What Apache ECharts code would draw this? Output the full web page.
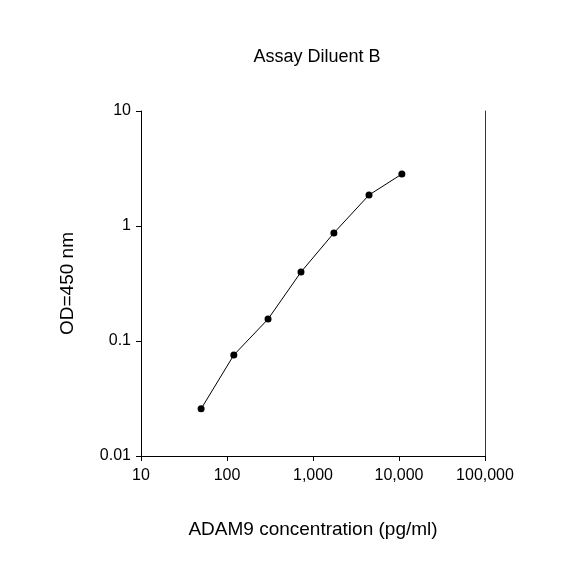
<!DOCTYPE html>
<html><head><meta charset="utf-8">
<script src="https://cdn.jsdelivr.net/npm/echarts@6/dist/echarts.min.js"></script>
<style>html,body{margin:0;background:#fff}#c{width:584px;height:584px}</style>
</head><body><div id="c"></div>
<script>
const concentrations=[50,120,300,725,1750,4480,10800];
const odValues=[0.0257,0.0755,0.155,0.398,0.87,1.86,2.83];
const xTickLabels={10:'10',100:'100',1000:'1,000',10000:'10,000',100000:'100,000'};
const yTickLabels={0.01:'0.01',0.1:'0.1',1:'1',10:'10'};
const font='Liberation Sans, Arial, sans-serif';
const chart=echarts.init(document.getElementById('c'));
chart.setOption({
  animation:false,
  title:{text:'Assay Diluent B',left:312,top:43,textAlign:'center',textStyle:{fontFamily:font,fontSize:18,fontWeight:'normal',color:'#000'}},
  grid:{left:141,right:99,top:111,bottom:128},
  xAxis:{type:'log',logBase:10,min:10,max:100000,
    name:'ADAM9 concentration (pg/ml)',nameLocation:'middle',nameGap:64,
    nameTextStyle:{fontFamily:font,fontSize:19,color:'#000'},
    axisLine:{lineStyle:{color:'#000'}},axisTick:{inside:false,length:5,lineStyle:{color:'#000'}},
    minorTick:{show:false},splitLine:{show:false},
    axisLabel:{fontFamily:font,fontSize:16,color:'#000',margin:12,formatter:v=>xTickLabels[Math.round(v)]||''}},
  yAxis:[{type:'log',logBase:10,min:0.01,max:10,
    name:'OD=450 nm',nameLocation:'middle',nameGap:64,
    nameTextStyle:{fontFamily:font,fontSize:19,color:'#000'},
    axisLine:{show:true,lineStyle:{color:'#000'}},axisTick:{show:true,length:5,lineStyle:{color:'#000'}},
    splitLine:{show:false},
    axisLabel:{fontFamily:font,fontSize:16,color:'#000',margin:10,formatter:v=>{for(const k in yTickLabels){if(Math.abs(Math.log10(v)-Math.log10(+k))<1e-6)return yTickLabels[k];}return '';}}},
   {type:'log',logBase:10,min:0.01,max:10,position:'right',axisLine:{show:true,lineStyle:{color:'#000',width:0.8}},axisTick:{show:false},axisLabel:{show:false},splitLine:{show:false}}],
  series:[{type:'line',data:concentrations.map((c,i)=>[c,odValues[i]]),symbol:'circle',symbolSize:7,
    itemStyle:{color:'#000'},lineStyle:{color:'#000',width:1}}]
});
</script></body></html>
